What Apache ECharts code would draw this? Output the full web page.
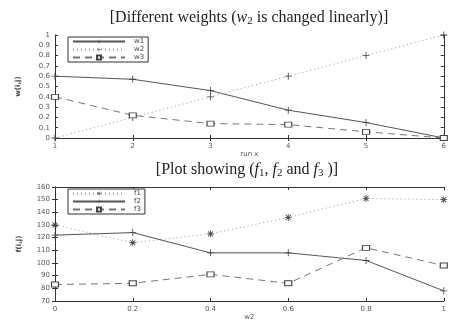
<!DOCTYPE html>
<html>
<head>
<meta charset="utf-8">
<script src="https://cdn.jsdelivr.net/npm/echarts@6/dist/echarts.min.js"></script>
<style>
  html, body { margin: 0; padding: 0; background: #fff; }
  #chart { width: 449px; height: 322px; }
</style>
</head>
<body>
<div id="chart"></div>
<script>
// top panel: weights per run
const runs = [1, 2, 3, 4, 5, 6];
const w1 = [0.60, 0.57, 0.46, 0.27, 0.15, 0.00];
const w2 = [0.00, 0.20, 0.40, 0.60, 0.80, 1.00];
const w3 = [0.40, 0.22, 0.14, 0.13, 0.06, 0.00];

// bottom panel: objectives vs w2
const w2Steps = [0, 0.2, 0.4, 0.6, 0.8, 1];
const f1 = [130, 116, 123, 136, 151, 150];
const f2 = [122, 124, 108, 108, 102, 78];
const f3 = [83, 84, 91, 84, 112, 98];

const plusSym = 'path://M4.4,0H5.6V4.4H10V5.6H5.6V10H4.4V5.6H0V4.4H4.4Z';
const starSym = 'path://M4.4,0H5.6V3.6L8.2,1L9,1.8L6.4,4.4H10V5.6H6.4L9,8.2L8.2,9L5.6,6.4V10H4.4V6.4L1.8,9L1,8.2L3.6,5.6H0V4.4H3.6L1,1.8L1.8,1L4.4,3.6Z';

const pairs = (xs, ys) => xs.map((x, i) => [x, ys[i]]);

const tickLbl = { color: '#555', fontSize: 7, fontFamily: 'DejaVu Sans', margin: 5 };
const axLine = { lineStyle: { color: '#333', width: 1 } };
const tickIn = { inside: true, length: 3, lineStyle: { color: '#333' } };

const titleStyle = {
  fontFamily: 'Liberation Serif', fontSize: 16, fontWeight: 'normal', color: '#222',
  rich: {
    i: { fontFamily: 'Liberation Serif', fontStyle: 'italic', fontSize: 16, color: '#222' },
    s: { fontFamily: 'Liberation Serif', fontSize: 11, color: '#222', padding: [7, 0, 0, 0] }
  }
};

const legendBase = {
  orient: 'vertical', left: 68,
  itemWidth: 52, itemHeight: 5, itemGap: 1, padding: [1, 4, 1, 4],
  borderColor: '#333', borderWidth: 1, backgroundColor: '#fff',
  textStyle: { fontSize: 7, color: '#444', fontFamily: 'DejaVu Sans', padding: [0, 0, 0, 4] }
};

const chart = echarts.init(document.getElementById('chart'));

const mkSeries = (name, data, xi, color, type, symbol, size, filled) => ({
  name, type: 'line', data, xAxisIndex: xi, yAxisIndex: xi,
  symbol, symbolSize: size, showSymbol: true,
  lineStyle: { color, width: 1, type },
  itemStyle: filled
    ? { color: '#444' }
    : { color: '#fff', borderColor: '#444', borderWidth: 1 },
  animation: false
});

chart.setOption({
  backgroundColor: '#fff',
  animation: false,
  title: [
    {
      text: '[Different weights ({i|w}{s|2} is changed linearly)]',
      left: 244, top: 4, textAlign: 'center', textStyle: titleStyle
    },
    {
      text: '[Plot showing ({i|f}{s|1}, {i|f}{s|2} and {i|f}{s|3} )]',
      left: 242, top: 156, textAlign: 'center', textStyle: titleStyle
    }
  ],
  legend: [
    Object.assign({ data: ['w1', 'w2', 'w3'], top: 37 }, legendBase),
    Object.assign({ data: ['f1', 'f2', 'f3'], top: 189 }, legendBase)
  ],
  grid: [
    { left: 55, top: 35, width: 392, height: 103 },
    { left: 55, top: 187, width: 392, height: 125 }
  ],
  xAxis: [
    {
      gridIndex: 0, type: 'value', min: 1, max: 6, interval: 1,
      name: 'run x', nameLocation: 'middle', nameGap: 4,
      nameTextStyle: { fontSize: 7, color: '#555', fontFamily: 'DejaVu Sans' },
      axisLine: axLine, axisTick: tickIn, axisLabel: tickLbl, splitLine: { show: false }
    },
    {
      gridIndex: 1, type: 'value', min: 0, max: 1, interval: 0.2,
      name: 'w2', nameLocation: 'middle', nameGap: 13,
      nameTextStyle: { fontSize: 7, color: '#555', fontFamily: 'DejaVu Sans' },
      axisLine: axLine, axisTick: tickIn, axisLabel: tickLbl, splitLine: { show: false }
    },
    {
      gridIndex: 0, type: 'value', min: 1, max: 6, interval: 1, position: 'top',
      axisLine: axLine, axisTick: tickIn, axisLabel: { show: false }, splitLine: { show: false }
    },
    {
      gridIndex: 1, type: 'value', min: 0, max: 1, interval: 0.2, position: 'top',
      axisLine: axLine, axisTick: tickIn, axisLabel: { show: false }, splitLine: { show: false }
    }
  ],
  yAxis: [
    {
      gridIndex: 0, type: 'value', min: 0, max: 1, interval: 0.1,
      name: 'w(i,j)', nameLocation: 'middle', nameGap: 33, nameRotate: 90,
      nameTextStyle: { fontSize: 7, color: '#444', fontFamily: 'DejaVu Sans', fontWeight: 'bold' },
      axisLine: axLine, axisTick: tickIn, splitLine: { show: false },
      axisLabel: Object.assign({}, tickLbl, {
        formatter: v => (Math.round(v * 10) / 10).toString()
      })
    },
    {
      gridIndex: 1, type: 'value', min: 70, max: 160, interval: 10,
      name: 'f(i,j)', nameLocation: 'middle', nameGap: 32, nameRotate: 90,
      nameTextStyle: { fontSize: 7, color: '#444', fontFamily: 'DejaVu Sans', fontWeight: 'bold' },
      axisLine: axLine, axisTick: tickIn, axisLabel: tickLbl, splitLine: { show: false }
    },
    {
      gridIndex: 0, type: 'value', min: 0, max: 1, interval: 0.1, position: 'right',
      axisLine: axLine, axisTick: tickIn, axisLabel: { show: false }, splitLine: { show: false }
    },
    {
      gridIndex: 1, type: 'value', min: 70, max: 160, interval: 10, position: 'right',
      axisLine: axLine, axisTick: tickIn, axisLabel: { show: false }, splitLine: { show: false }
    }
  ],
  series: [
    mkSeries('w1', pairs(runs, w1), 0, '#555', 'solid', plusSym, 7, true),
    mkSeries('w2', pairs(runs, w2), 0, '#999', [1, 3], plusSym, 7, true),
    mkSeries('w3', pairs(runs, w3), 0, '#777', [7, 5], 'rect', [7, 5], false),
    mkSeries('f1', pairs(w2Steps, f1), 1, '#999', [1, 3], starSym, 7, true),
    mkSeries('f2', pairs(w2Steps, f2), 1, '#555', 'solid', plusSym, 7, true),
    mkSeries('f3', pairs(w2Steps, f3), 1, '#777', [7, 5], 'rect', [7, 5], false)
  ]
});

window.addEventListener('resize', () => chart.resize());
</script>
</body>
</html>
